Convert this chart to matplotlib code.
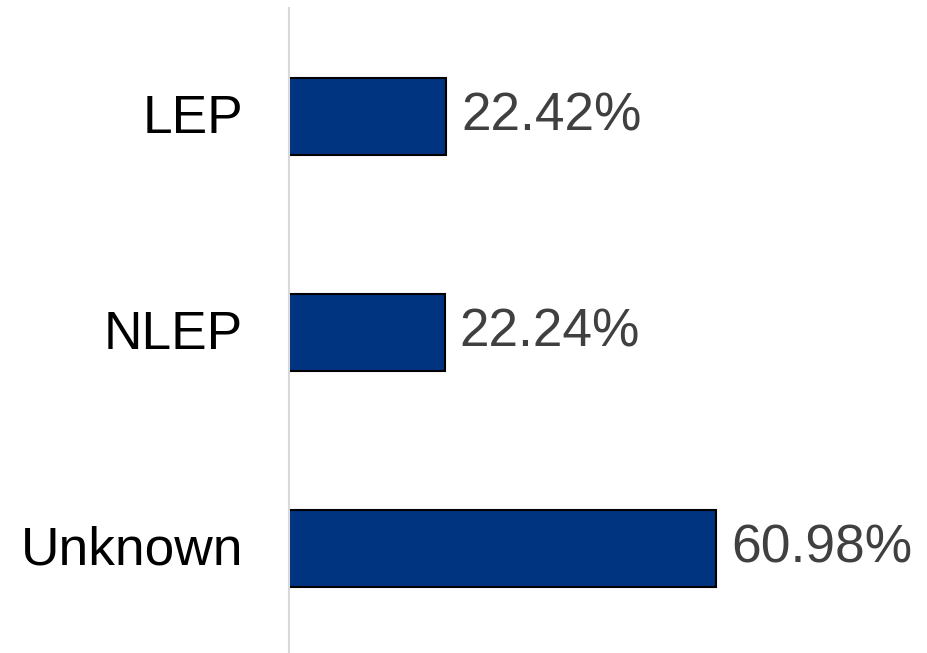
import matplotlib
matplotlib.use("Agg")
import matplotlib.pyplot as plt
import matplotlib.transforms as mtransforms

categories = ["LEP", "NLEP", "Unknown"]
shares = [22.42, 22.24, 60.98]

plt.rcParams['font.family'] = ['Liberation Sans', 'DejaVu Sans']

W, H = 927, 653
fig = plt.figure(figsize=(W / 100, H / 100), dpi=100)
# axes box in pixel terms: left edge at the category axis line
left, right, top, bottom = 289, 927, 8, 653
ax = fig.add_axes([left / W, 1 - bottom / H, (right - left) / W, (bottom - top) / H])

pos = list(range(len(categories)))
ax.barh(pos, shares, height=0.356, color="#003380", edgecolor="black", linewidth=1.5)

px_per_unit = 7.0
ax.set_xlim(0, (right - left) / px_per_unit)
ax.set_ylim(2.484, -0.502)

for p, v in zip(pos, shares):
    ax.text(v + 15 / px_per_unit, p, f"{v:.2f}%", va="center", ha="left",
            fontsize=38.3, color="#404040")

ax.set_yticks(pos)
ax.set_yticklabels(categories, fontsize=38.3, color="black")
ax.tick_params(axis="y", length=0, pad=33)
# nudge category labels up a little
shift = mtransforms.ScaledTranslation(0, 3 / 100, fig.dpi_scale_trans)
for lbl in ax.get_yticklabels():
    lbl.set_transform(lbl.get_transform() + shift)
ax.set_xticks([])
for s in ["top", "right", "bottom"]:
    ax.spines[s].set_visible(False)
ax.spines["left"].set_color("#d9d9d9")
ax.spines["left"].set_linewidth(1.5)

fig.savefig("out.png", dpi=100)
